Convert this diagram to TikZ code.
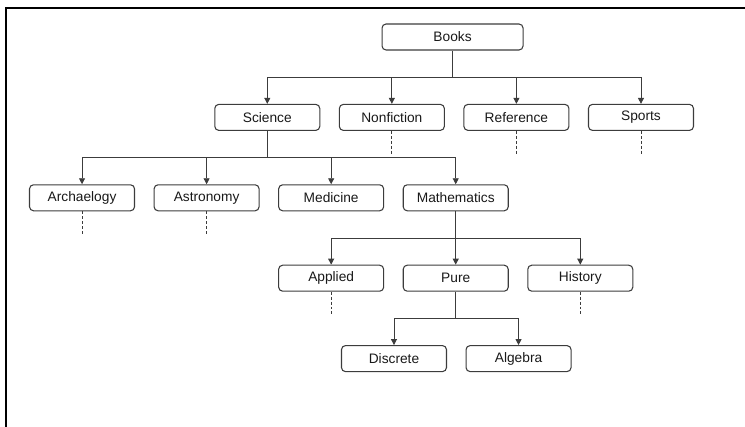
\documentclass[tikz,border=0pt]{standalone}
\usepackage{fontspec}
\setmainfont{Liberation Sans}
\usepackage{tikz}
\usetikzlibrary{positioning,arrows.meta}
\definecolor{bLine}{RGB}{60,60,60}
\definecolor{bText}{RGB}{25,25,25}
\tikzset{
  cat/.style={rectangle, rounded corners=3pt, draw=bLine, line width=0.8pt,
              fill=white, minimum height=19.5pt, minimum width=78.75pt,
              inner sep=2pt, align=center, text=bText,
              font=\fontsize{10.3}{12}\selectfont},
  root/.style={cat, minimum width=105.75pt},
  link/.style={draw=bLine, line width=0.7pt},
  arr/.style={link, -{Triangle[length=4.5pt,width=4.5pt]}},
  more/.style={draw=bLine, line width=0.7pt, dash pattern=on 2.2pt off 1.5pt},
  frame/.style={draw=black, line width=1.6pt},
}

\begin{document}
\begin{tikzpicture}[node distance=40pt and 13.875pt]
  \useasboundingbox (0,0) rectangle (558.75pt,-320.25pt);

  % ---- page frame (top and left edge) ----
  \coordinate (fbl) at (4.5pt,-330pt);
  \coordinate (ftr) at (570pt,-6.2pt);
  \draw[frame] (fbl) |- (ftr);

  % ---- root ----
  \node[root] (books) at (339.4pt,-27.75pt) {Books};

  % ---- first level ----
  \node[cat, below=of books, xshift=-138.94pt] (sci) {Science};
  \node[cat, right=of sci] (nonfic) {Nonfiction};
  \node[cat, right=of nonfic] (ref) {Reference};
  \node[cat, right=of ref] (sports) {Sports};

  % ---- science branch ----
  \node[cat, below=of sci, xshift=-138.94pt] (arch) {Archaelogy};
  \node[cat, right=of arch] (astro) {Astronomy};
  \node[cat, right=of astro] (med) {Medicine};
  \node[cat, right=of med] (math) {Mathematics};

  % ---- mathematics branch ----
  \node[cat, below=of med] (appl) {Applied};
  \node[cat, right=of appl] (pure) {Pure};
  \node[cat, right=of pure] (hist) {History};

  % ---- pure branch ----
  \node[cat, below=of pure, xshift=-46.31pt] (disc) {Discrete};
  \node[cat, right=of disc] (alg) {Algebra};

  % ===== tree edges (stem, then bar with arrows) =====
  \path (books.south) ++(0,-20pt) coordinate (jbooks);
  \draw[link] (books.south) -- (jbooks);
  \foreach \c in {sci,nonfic,ref,sports}{ \draw[arr] (jbooks) -| (\c.north); }

  \path (sci.south) ++(0,-20pt) coordinate (jsci);
  \draw[link] (sci.south) -- (jsci);
  \foreach \c in {arch,astro,med,math}{ \draw[arr] (jsci) -| (\c.north); }

  \path (math.south) ++(0,-20pt) coordinate (jmath);
  \draw[link] (math.south) -- (jmath);
  \foreach \c in {appl,pure,hist}{ \draw[arr] (jmath) -| (\c.north); }

  \path (pure.south) ++(0,-20pt) coordinate (jpure);
  \draw[link] (pure.south) -- (jpure);
  \foreach \c in {disc,alg}{ \draw[arr] (jpure) -| (\c.north); }

  % ===== dashed stubs (more below) =====
  \foreach \c in {nonfic,ref,sports,arch,astro,appl,hist}{
    \path (\c.south) ++(0,-18pt) coordinate (\c-end);
    \draw[more] (\c.south) -- (\c-end);
  }

\end{tikzpicture}
\end{document}
